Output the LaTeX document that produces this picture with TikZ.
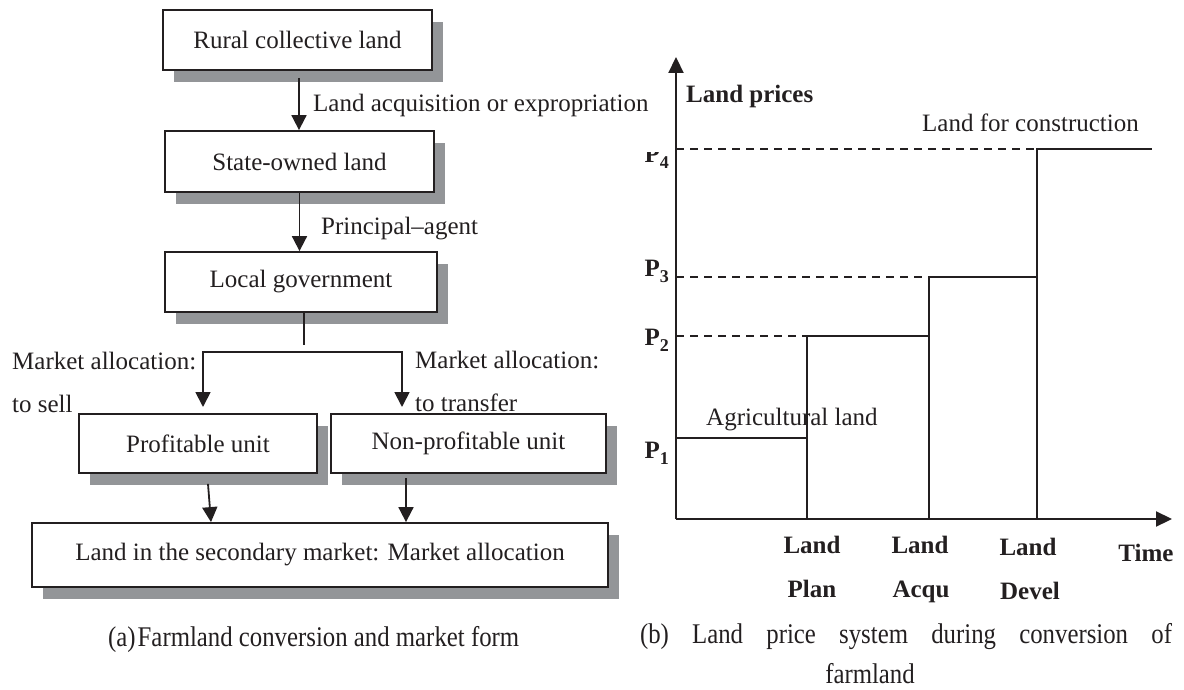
\documentclass[tikz,border=0pt]{standalone}
\usepackage{fontspec}
\setmainfont{Liberation Serif}
\newfontfamily\capfont[FakeStretch=0.87]{Liberation Serif}
\usetikzlibrary{arrows.meta,shadows}
\definecolor{ink}{HTML}{231F20}
\definecolor{shade}{HTML}{939598}
\newcommand\fs{\fontsize{25}{30}\selectfont}
\newcommand\capfs{\capfont\fontsize{28.5}{30}\selectfont}
\newcommand\psub[1]{P\raisebox{-6pt}{\fontsize{18}{18}\selectfont\bfseries #1}}
\tikzset{
  box/.style={draw=ink, line width=1.8pt, fill=white, inner sep=0pt, font=\fs, text=ink,
    general shadow={fill=shade, shadow xshift=11pt, shadow yshift=-12pt}},
  conn/.style={draw=ink, line width=1.8pt},
  arr/.style={conn, -{Triangle[length=15pt,width=15pt]}},
  lbl/.style={inner sep=0pt, font=\fs, text=ink},
  blbl/.style={inner sep=0pt, font=\fs\bfseries, text=ink},
  caplbl/.style={inner sep=0pt, font=\capfs, text=ink},
  axis/.style={draw=ink, line width=2.2pt, -{Triangle[length=16pt,width=15pt]}},
  stepline/.style={draw=ink, line width=1.6pt},
  thickstep/.style={draw=ink, line width=2.4pt},
  dashline/.style={draw=ink, line width=2pt, dash pattern=on 8pt off 6pt},
}
\begin{document}
\begin{tikzpicture}[x=1pt,y=-1pt]
\useasboundingbox (0,0) rectangle (1184,690);
% ---------- (a) flow chart ----------
\node[box, minimum width=269pt, minimum height=60pt] (b1) at (297.5,40) {Rural collective land};
\node[box, minimum width=269pt, minimum height=61pt] (b2) at (299.5,161.5) {State-owned land};
\node[box, minimum width=272pt, minimum height=60pt] (b3) at (301,282) {Local government};
\node[box, minimum width=238pt, minimum height=59pt] (pu) at (198,443.5) {Profitable unit};
\node[box, minimum width=275pt, minimum height=59pt] (npu) at (468.5,443.5) {Non-profitable unit};
\node[box, minimum width=576pt, minimum height=64pt] (sm) at (320,555) {Land in the secondary market: Market allocation};

\draw[arr] ([shift={(1.5,7)}]b1.south) -- ([shift={(1.5,0)}]b1.south |- b2.north);
\draw[arr] (b2.south) -- (b2.south |- b3.north);

\coordinate (stubend) at (304,345);
\draw[conn] (stubend |- b3.south) -- (stubend);
\coordinate (hl) at (203,352);
\coordinate (hr) at (402,352);
\coordinate (tl) at (203,407);
\coordinate (tr) at (402,407);
\draw[conn, {Triangle[length=15pt,width=15pt]}-{Triangle[length=15pt,width=15pt]}] (tl) -- (hl) -- (hr) -- (tr);

\draw[arr] ([shift={(10,10)}]pu.south) -- ([shift={(-109,0)}]sm.north);
\coordinate (nps) at ([shift={(-62.5,4)}]npu.south);
\draw[arr] (nps) -- (nps |- sm.north);

\node[lbl, anchor=base west] (l1) at (313,112) {Land acquisition or expropriation};
\node[lbl, anchor=base west] (l2) at (321,234) {Principal--agent};
\node[lbl, anchor=base west] (l3) at (12,369) {Market allocation:};
\node[lbl, anchor=base west] (l4) at (12,412) {to sell};
\node[lbl, anchor=base west] (l5) at (415,368) {Market allocation:};
\node[lbl, anchor=base west] (l6) at (415,411) {to transfer};

\node[caplbl, anchor=base west] (capa) at (108,646) {(a)\kern2pt Farmland conversion and market form};

% ---------- (b) price chart ----------
\coordinate (O) at (676,519);
\coordinate (ytop) at (676,57);
\coordinate (xend) at (1172,519);

\node[lbl, anchor=base west] (ag) at (706,425) {Agricultural land};
\node[lbl, anchor=base west] (lc) at (922,132) {Land for construction};
\node[blbl, anchor=base west] (yl) at (686,103) {Land prices};

\draw[dashline] (676,336) -- (807,336);
\draw[dashline] (676,277) -- (929,277);
\draw[dashline] (676,149) -- (1037,149);

\draw[stepline, line width=1.3pt] (676,438) -- (807,438);
\draw[stepline] (807,519) -- (807,336) -- (929,336);
\draw[stepline] (929,519) -- (929,277) -- (1037,277);
\draw[thickstep] (1037,519) -- (1037,149) -- (1152,149);

\draw[axis] (O) -- (ytop);
\draw[axis] (O) -- (xend);

\node[blbl, anchor=base east] (p1) at (669,458) {\psub{1}};
\node[blbl, anchor=base east] (p2) at (669,345) {\psub{2}};
\node[blbl, anchor=base east] (p3) at (669,276) {\psub{3}};
\begin{scope}
  \clip (620,153) rectangle (674,190);
  \node[blbl, anchor=base east] (p4) at (669,163) {\psub{4}};
\end{scope}

\node[blbl, anchor=base] (t1a) at (812,553) {Land};
\node[blbl, anchor=base] (t1b) at (812,597) {Plan};
\node[blbl, anchor=base] (t2a) at (920,553) {Land};
\node[blbl, anchor=base] (t2b) at (921,597) {Acqu};
\node[blbl, anchor=base] (t3a) at (1028,555) {Land};
\node[blbl, anchor=base] (t3b) at (1030,599) {Devel};
\node[blbl, anchor=base] (tm) at (1146,561) {Time};

\node[caplbl, anchor=base] (capb) at (906,643) {\makebox[532pt][s]{(b) Land price system during conversion of}};
\node[caplbl, anchor=base] (capb2) at (870,683) {farmland};
\end{tikzpicture}
\end{document}
